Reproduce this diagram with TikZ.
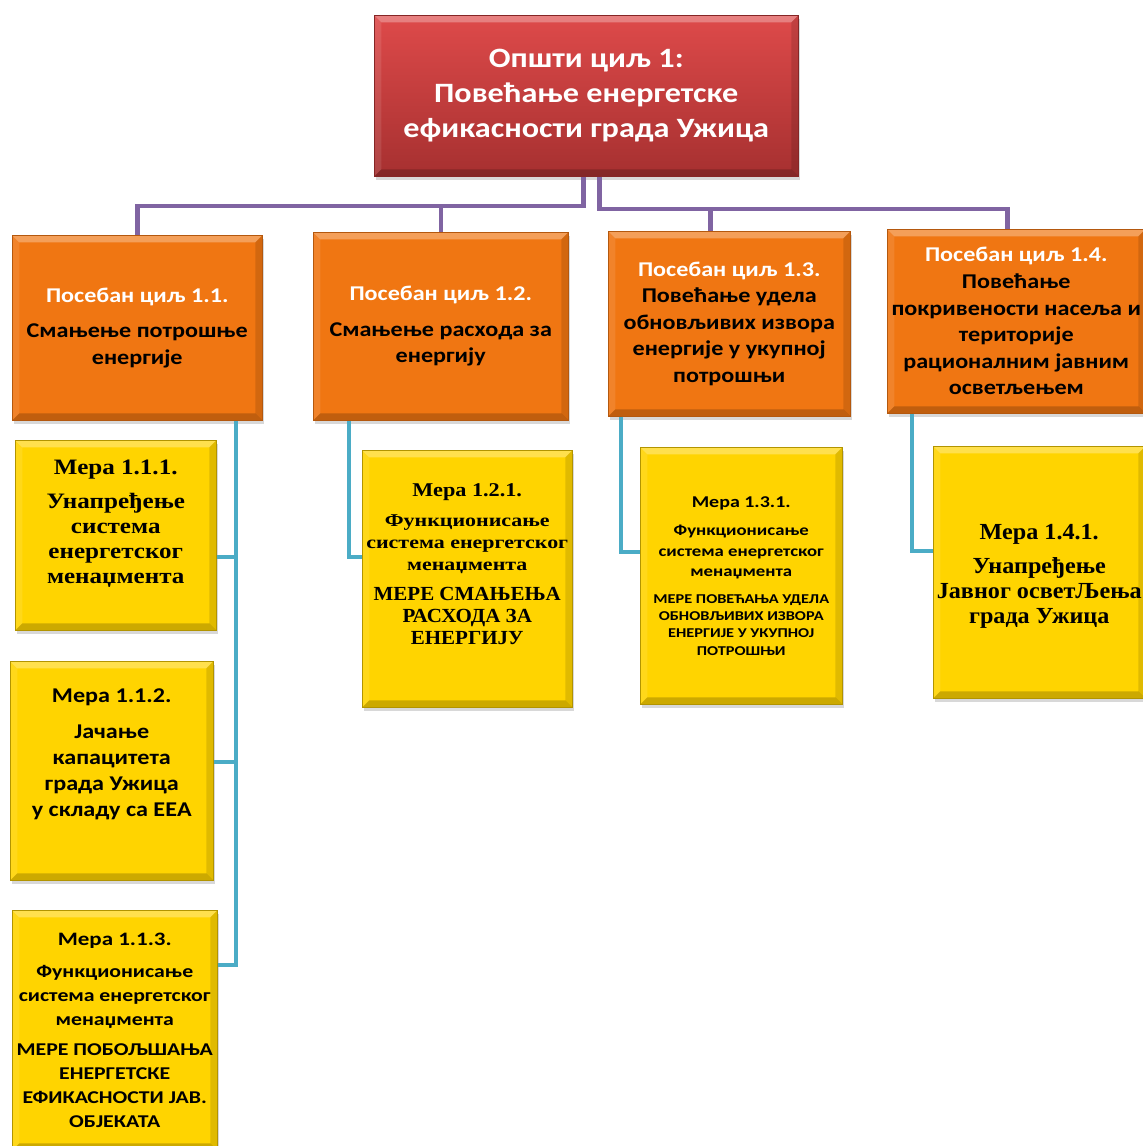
\documentclass[tikz,border=0pt]{standalone}
\usepackage{fontspec}
\setmainfont{Carlito}[FakeStretch=1.15]
\newfontfamily\widesans{Carlito}[FakeStretch=1.21]
\newfontfamily\timesbf{Liberation Serif}[FakeStretch=1.14]
\newfontfamily\timeswide{Liberation Serif}[FakeStretch=1.22]
\newfontfamily\timesnarrow{Liberation Serif}[FakeStretch=1.05]
\usetikzlibrary{shadows}

\definecolor{goalredtop}{HTML}{DE4A4A}
\definecolor{goalredbot}{HTML}{A63030}
\definecolor{aimorange}{HTML}{F07612}
\definecolor{stepyellow}{HTML}{FFD400}
\definecolor{linkpurple}{HTML}{8064A2}
\definecolor{linkblue}{HTML}{4BACC6}

% depth on the last line lifts the text, height on the first line sinks it
\newcommand{\liftby}[1]{\rule[-#1]{0pt}{#1}}
\newcommand{\sinkby}[1]{\rule{0pt}{#1}}

\tikzset{
  bevel/.style={path picture={
    \coordinate (pnw) at (path picture bounding box.north west);
    \coordinate (pne) at (path picture bounding box.north east);
    \coordinate (psw) at (path picture bounding box.south west);
    \coordinate (pse) at (path picture bounding box.south east);
    \fill[white, opacity=0.30] (pnw) -- (pne) -- ([shift={(-7pt,-7pt)}]pne) -- ([shift={(7pt,-7pt)}]pnw) -- cycle;
    \fill[black, opacity=0.12] (pne) -- (pse) -- ([shift={(-7pt,7pt)}]pse) -- ([shift={(-7pt,-7pt)}]pne) -- cycle;
    \fill[black, opacity=0.20] (psw) -- (pse) -- ([shift={(-7pt,7pt)}]pse) -- ([shift={(7pt,7pt)}]psw) -- cycle;
    \fill[white, opacity=0.10] (pnw) -- (psw) -- ([shift={(7pt,7pt)}]psw) -- ([shift={(7pt,-7pt)}]pnw) -- cycle;
  }},
  goalbox/.style={anchor=north west, align=center, inner sep=2pt, bevel,
    top color=goalredtop, bottom color=goalredbot, draw=goalredbot!80!black, line width=0.5pt,
    text=white, font=\fontsize{28}{35}\selectfont\bfseries,
    drop shadow={shadow xshift=2pt, shadow yshift=-4pt, opacity=0.3}},
  aimbox/.style={anchor=north west, align=center, inner sep=1pt, bevel,
    fill=aimorange, draw=aimorange!75!black, line width=0.5pt,
    text=black, font=\fontsize{21}{26.6}\selectfont\bfseries,
    drop shadow={shadow xshift=2pt, shadow yshift=-4pt, opacity=0.3}},
  stepbox/.style={anchor=north west, align=center, inner sep=1pt, bevel,
    fill=stepyellow, draw=stepyellow!70!black, line width=0.5pt, text=black,
    drop shadow={shadow xshift=2pt, shadow yshift=-4pt, opacity=0.3}},
  purplelink/.style={draw=linkpurple, line width=4.5pt},
  bluelink/.style={draw=linkblue, line width=4pt}
}

\begin{document}
\begin{tikzpicture}[x=1pt, y=-1pt]
    \useasboundingbox[fill=white] (0,0) rectangle (1143,1146);

    % general goal
    \node[goalbox, minimum width=424pt, minimum height=161pt] (root) at (374,15)
        {Општи циљ 1:\\Повећање енергетске\\ефикасности града Ужица};

    % specific goals
    \node[aimbox, minimum width=250pt, minimum height=185pt] (b1) at (12,235)
        {\textcolor{white}{Посебан циљ 1.1.}\\[9pt]Смањење потрошње\\енергије};
    \node[aimbox, minimum width=255pt, minimum height=188pt] (b2) at (313,232)
        {\textcolor{white}{Посебан циљ 1.2.}\\[9pt]Смањење расхода за\\енергију};
    \node[aimbox, minimum width=242pt, minimum height=185pt] (b3) at (608,231)
        {\textcolor{white}{Посебан циљ 1.3.}\\Повећање удела\\обновљивих извора\\енергије у укупној\\потрошњи};
    \node[aimbox, minimum width=258pt, minimum height=184pt] (b4) at (887,229)
        {\textcolor{white}{Посебан циљ 1.4.}\\Повећање\\покривености насеља и\\територије\\рационалним јавним\\осветљењем};

    % measures
    \node[stepbox, minimum width=201pt, minimum height=190pt, font=\timesbf\fontsize{22}{25}\selectfont\bfseries] (m111) at (15,440)
        {Мера 1.1.1.\\[9pt]Унапређење\\система\\енергетског\\менаџмента\liftby{28pt}};
    \node[stepbox, minimum width=203pt, minimum height=219pt, font=\fontsize{21}{26}\selectfont\bfseries] (m112) at (10,661)
        {Мера 1.1.2.\\[10pt]Јачање\\капацитета\\града Ужица\\у складу са ЕЕА\liftby{36pt}};
    \node[stepbox, minimum width=205pt, minimum height=240pt, font=\widesans\fontsize{18}{24}\selectfont\bfseries] (m113) at (12,910)
        {{\fontsize{19}{24}\selectfont Мера 1.1.3.}\\[8pt]Функционисање\\система енергетског\\менаџмента\\[6pt]МЕРЕ ПОБОЉШАЊА\\ЕНЕРГЕТСКЕ\\ЕФИКАСНОСТИ ЈАВ.\\ОБЈЕКАТА};
    \node[stepbox, minimum width=210pt, minimum height=257pt, font=\timeswide\fontsize{18}{22}\selectfont\bfseries] (m121) at (362,450)
        {{\timesbf\fontsize{19.5}{22}\selectfont Мера 1.2.1.}\\[8pt]Функционисање\\система енергетског\\менаџмента\\[8pt]{\timesnarrow\fontsize{20}{22}\selectfont МЕРЕ СМАЊЕЊА}\\{\timesnarrow\fontsize{20}{22}\selectfont РАСХОДА ЗА}\\{\timesnarrow\fontsize{20}{22}\selectfont ЕНЕРГИЈУ}\liftby{30pt}};
    \node[stepbox, minimum width=202pt, minimum height=257pt, font=\widesans\fontsize{15.5}{20.5}\selectfont\bfseries] (m131) at (640,447)
        {{\fontsize{16.5}{20.5}\selectfont Мера 1.3.1.}\\[8pt]Функционисање\\система енергетског\\менаџмента\\[6pt]{\fontsize{13.5}{17.3}\selectfont МЕРЕ ПОВЕЋАЊА УДЕЛА}\\[-3.2pt]{\fontsize{13.5}{17.3}\selectfont ОБНОВЉИВИХ ИЗВОРА}\\[-3.2pt]{\fontsize{13.5}{17.3}\selectfont ЕНЕРГИЈЕ У УКУПНОЈ}\\[-3.2pt]{\fontsize{13.5}{17.3}\selectfont ПОТРОШЊИ}};
    \node[stepbox, minimum width=212pt, minimum height=252pt, font=\timesnarrow\fontsize{23}{25}\selectfont\bfseries] (m141) at (933,446)
        {\sinkby{24pt}Мера 1.4.1.\\[9pt]Унапређење\\Јавног осветЉења\\града Ужица};

    % purple tree
    \coordinate (busl) at (0,206);
    \coordinate (busr) at (0,209);
    \coordinate (d3) at ([xshift=-19pt]b3.north);
    \coordinate (d4) at ([xshift=-9pt]b4.north);
    \draw[purplelink] ([xshift=-3pt]root.south) |- (b1.north |- busl) -- (b1.north);
    \draw[purplelink] (b2.north |- busl) -- (b2.north);
    \draw[purplelink] ([xshift=13pt]root.south) |- (d4 |- busr) -- (d4);
    \draw[purplelink] (d3 |- busr) -- (d3);

    % blue links
    \coordinate (k1) at ([xshift=99pt]b1.south);
    \coordinate (k2) at ([xshift=-92pt]b2.south);
    \coordinate (k3) at ([xshift=-108pt]b3.south);
    \coordinate (k4) at ([xshift=-104pt]b4.south);
    \draw[bluelink] (k1) |- ([yshift=-55pt]m113.north east);
    \draw[bluelink] ([yshift=-117pt]m111.north east) -| (k1);
    \draw[bluelink] ([yshift=-101pt]m112.north east) -| (k1);
    \draw[bluelink] (k2) |- ([yshift=-107pt]m121.north west);
    \draw[bluelink] (k3) |- ([yshift=-105pt]m131.north west);
    \draw[bluelink] (k4) |- ([yshift=-105pt]m141.north west);
\end{tikzpicture}
\end{document}
